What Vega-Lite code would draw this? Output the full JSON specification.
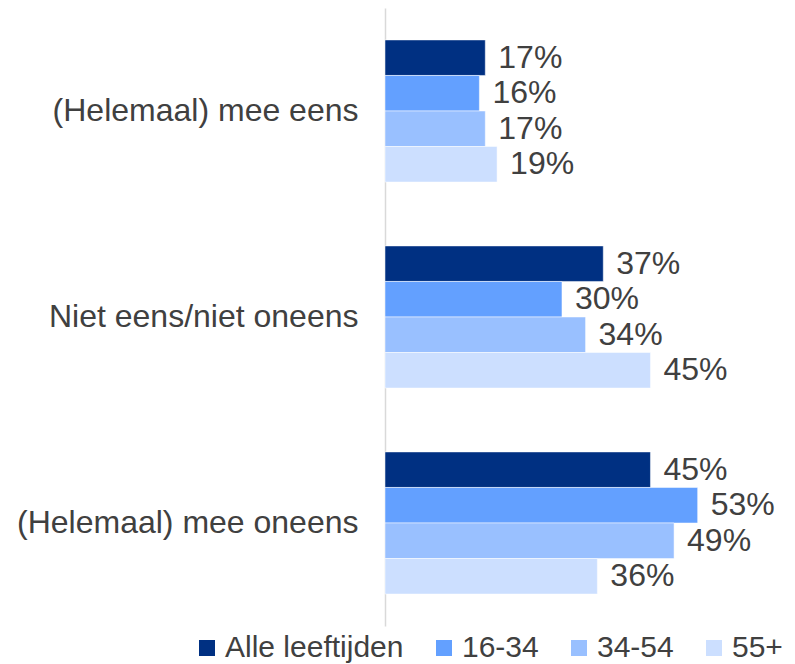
{
  "$schema": "https://vega.github.io/schema/vega-lite/v6.json",
  "autosize": "none",
  "width": 410,
  "height": 618,
  "padding": {"left": 385, "top": 8, "right": 0, "bottom": 38},
  "config": {"view": {"stroke": null}, "font": "Liberation Sans"},
  "data": {
    "values": [
      {"cat": "(Helemaal) mee eens", "group": "Alle leeftijden", "value": 0.17},
      {"cat": "(Helemaal) mee eens", "group": "16-34", "value": 0.16},
      {"cat": "(Helemaal) mee eens", "group": "34-54", "value": 0.17},
      {"cat": "(Helemaal) mee eens", "group": "55+", "value": 0.19},
      {"cat": "Niet eens/niet oneens", "group": "Alle leeftijden", "value": 0.37},
      {"cat": "Niet eens/niet oneens", "group": "16-34", "value": 0.30},
      {"cat": "Niet eens/niet oneens", "group": "34-54", "value": 0.34},
      {"cat": "Niet eens/niet oneens", "group": "55+", "value": 0.45},
      {"cat": "(Helemaal) mee oneens", "group": "Alle leeftijden", "value": 0.45},
      {"cat": "(Helemaal) mee oneens", "group": "16-34", "value": 0.53},
      {"cat": "(Helemaal) mee oneens", "group": "34-54", "value": 0.49},
      {"cat": "(Helemaal) mee oneens", "group": "55+", "value": 0.36}
    ]
  },
  "encoding": {
    "y": {
      "field": "cat", "type": "nominal",
      "sort": ["(Helemaal) mee eens", "Niet eens/niet oneens", "(Helemaal) mee oneens"],
      "scale": {"paddingInner": 0.31, "paddingOuter": 0.155},
      "axis": {"title": null, "ticks": false, "labelFontSize": 32, "labelColor": "#404040", "labelPadding": 27, "domainColor": "#d9d9d9", "domainWidth": 1.5, "labelLimit": 400}
    },
    "yOffset": {
      "field": "group", "type": "nominal",
      "sort": ["Alle leeftijden", "16-34", "34-54", "55+"],
      "scale": {"paddingInner": 0, "paddingOuter": 0}
    },
    "x": {"field": "value", "type": "quantitative", "scale": {"domain": [0, 0.695]}, "axis": null}
  },
  "layer": [
    {
      "mark": {"type": "bar", "stroke": "white", "strokeWidth": 0.5},
      "encoding": {
        "color": {
          "field": "group", "type": "nominal",
          "sort": ["Alle leeftijden", "16-34", "34-54", "55+"],
          "scale": {"domain": ["Alle leeftijden", "16-34", "34-54", "55+"], "range": ["#003082", "#63A0FF", "#99C0FF", "#CCDFFF"]},
          "legend": {"orient": "none", "legendX": -193, "legendY": 625, "direction": "horizontal", "title": null, "symbolType": "square", "symbolSize": 256, "symbolStrokeWidth": 0, "labelFontSize": 30, "labelColor": "#404040", "labelOffset": 3, "labelLimit": 400, "columnPadding": 25}
        }
      }
    },
    {
      "mark": {"type": "text", "align": "left", "baseline": "middle", "dx": 13, "fontSize": 32, "color": "#404040"},
      "encoding": {"text": {"field": "value", "type": "quantitative", "format": ".0%"}}
    }
  ]
}
